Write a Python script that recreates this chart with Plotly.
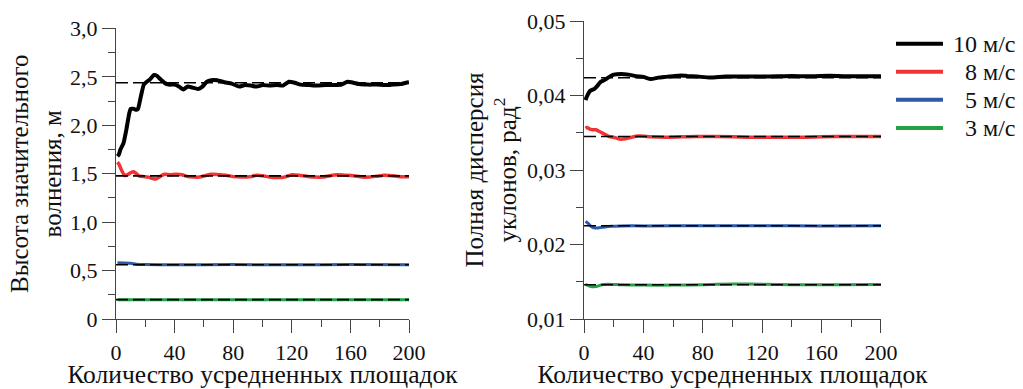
import plotly.graph_objects as go

# ---------------- data ----------------
# Left panel: significant wave height, m
h10_x = [1, 2, 3, 5, 7, 9, 10, 12, 14, 15, 17, 19, 21, 23, 26, 28, 30, 33, 36, 40, 43, 46, 49, 52, 56, 59, 62, 65, 69, 74, 79, 84, 88, 92, 96, 100, 105, 110, 114, 118, 122, 126, 132, 137, 143, 149, 154, 158, 162, 166, 172, 178, 184, 189, 194, 198, 200]
h10_y = [1.68, 1.70, 1.75, 1.81, 1.95, 2.12, 2.17, 2.17, 2.16, 2.17, 2.30, 2.42, 2.45, 2.47, 2.52, 2.51, 2.48, 2.44, 2.42, 2.42, 2.40, 2.37, 2.40, 2.39, 2.375, 2.40, 2.45, 2.465, 2.465, 2.445, 2.43, 2.40, 2.415, 2.41, 2.40, 2.415, 2.41, 2.415, 2.41, 2.45, 2.44, 2.42, 2.415, 2.41, 2.415, 2.415, 2.42, 2.45, 2.44, 2.425, 2.42, 2.42, 2.415, 2.42, 2.425, 2.44, 2.445]

h8_x = [1, 2, 4, 6, 8, 10, 12, 14, 16, 19, 22, 25, 27, 30, 33, 37, 41, 45, 49, 53, 57, 61, 65, 70, 75, 80, 86, 92, 96, 100, 105, 110, 115, 120, 125, 130, 136, 141, 146, 151, 156, 162, 168, 173, 178, 183, 188, 194, 200]
h8_y = [1.62, 1.60, 1.53, 1.48, 1.49, 1.51, 1.52, 1.50, 1.475, 1.47, 1.465, 1.45, 1.445, 1.47, 1.495, 1.49, 1.495, 1.49, 1.47, 1.465, 1.465, 1.48, 1.495, 1.49, 1.485, 1.47, 1.465, 1.47, 1.485, 1.48, 1.465, 1.46, 1.465, 1.49, 1.485, 1.475, 1.465, 1.465, 1.48, 1.49, 1.485, 1.48, 1.465, 1.465, 1.475, 1.485, 1.48, 1.47, 1.47]

h5_x = [1, 5, 10, 14, 20, 40, 80, 120, 160, 200]
h5_y = [0.58, 0.578, 0.575, 0.565, 0.562, 0.56, 0.562, 0.56, 0.562, 0.56]

h3_x = [1, 50, 100, 150, 200]
h3_y = [0.199, 0.2, 0.2, 0.2, 0.2]

h_mean = [2.44, 1.478, 0.56, 0.2]

# Right panel: total slope variance, rad^2
s10_x = [1, 2, 4, 7, 9, 11, 14, 17, 20, 25, 30, 35, 40, 45, 50, 55, 60, 65, 70, 76, 85, 95, 105, 115, 125, 135, 145, 155, 165, 175, 185, 195, 200]
s10_y = [0.0394, 0.0399, 0.0406, 0.0409, 0.0413, 0.0418, 0.0421, 0.0425, 0.0428, 0.0429, 0.0428, 0.0426, 0.0425, 0.0422, 0.0424, 0.0425, 0.0426, 0.0427, 0.0426, 0.04255, 0.0424, 0.04255, 0.04255, 0.04255, 0.04255, 0.0426, 0.0426, 0.0426, 0.04265, 0.0426, 0.0426, 0.0426, 0.0426]

s8_x = [1, 2, 4, 6, 8, 11, 14, 17, 20, 24, 28, 32, 37, 45, 55, 65, 75, 90, 110, 130, 150, 170, 190, 200]
s8_y = [0.0356, 0.0357, 0.0355, 0.0354, 0.0354, 0.0351, 0.0348, 0.0345, 0.0344, 0.03415, 0.0342, 0.0344, 0.03455, 0.03445, 0.0344, 0.03445, 0.0345, 0.0345, 0.0344, 0.0344, 0.0344, 0.0345, 0.0345, 0.0345]

s5_x = [1, 3, 5, 8, 12, 18, 25, 40, 80, 120, 160, 200]
s5_y = [0.0231, 0.0228, 0.0224, 0.0222, 0.0223, 0.02245, 0.0225, 0.0225, 0.02252, 0.02252, 0.0225, 0.02252]

s3_x = [1, 4, 8, 12, 16, 25, 40, 60, 80, 100, 120, 140, 170, 200]
s3_y = [0.01465, 0.0144, 0.01435, 0.0146, 0.01468, 0.0146, 0.01455, 0.01455, 0.0146, 0.0147, 0.01468, 0.0146, 0.0146, 0.01462]

s_mean = [0.04238, 0.0345, 0.02252, 0.0146]

mean_x = [0, 200]

series_names = ["10 м/с", "8 м/с", "5 м/с", "3 м/с"]
colors = ["#000000", "#ee3434", "#2c5aa8", "#26a048"]
widths = [4, 3.5, 3, 3]

x_tickvals = [0, 40, 80, 120, 160, 200]
x_ticktext = ["0", "40", "80", "120", "160", "200"]
h_tickvals = [0, 0.5, 1.0, 1.5, 2.0, 2.5, 3.0]
h_ticktext = ["0", "0,5", "1,0", "1,5", "2,0", "2,5", "3,0"]
s_tickvals = [0.01, 0.02, 0.03, 0.04, 0.05]
s_ticktext = ["0,01", "0,02", "0,03", "0,04", "0,05"]

FONT = "Liberation Serif, Times New Roman, serif"
TXT = "#111111"
AX = "#444444"

fig = go.Figure()

left = [(h10_x, h10_y), (h8_x, h8_y), (h5_x, h5_y), (h3_x, h3_y)]
right = [(s10_x, s10_y), (s8_x, s8_y), (s5_x, s5_y), (s3_x, s3_y)]

for i, (xs, ys) in enumerate(left):
    fig.add_trace(go.Scatter(x=xs, y=ys, mode="lines", name=series_names[i],
                             line=dict(color=colors[i], width=widths[i], shape="spline", smoothing=0.5),
                             xaxis="x", yaxis="y", showlegend=False))
for i, (xs, ys) in enumerate(right):
    fig.add_trace(go.Scatter(x=xs, y=ys, mode="lines", name=series_names[i],
                             line=dict(color=colors[i], width=widths[i], shape="spline", smoothing=0.5),
                             xaxis="x2", yaxis="y2", showlegend=False))
for m in h_mean:
    fig.add_trace(go.Scatter(x=mean_x, y=[m, m], mode="lines", showlegend=False,
                             line=dict(color="#000000", width=1.6, dash="12px,5px"),
                             xaxis="x", yaxis="y", hoverinfo="skip"))
for m in s_mean:
    fig.add_trace(go.Scatter(x=mean_x, y=[m, m], mode="lines", showlegend=False,
                             line=dict(color="#000000", width=1.6, dash="12px,5px"),
                             xaxis="x2", yaxis="y2", hoverinfo="skip"))

# legend (right-aligned labels, as in the original)
leg_y = [0.924, 0.83, 0.736, 0.641]
for i, name in enumerate(series_names):
    fig.add_shape(type="line", xref="paper", yref="paper", x0=1.0196, x1=1.081,
                  y0=leg_y[i], y1=leg_y[i], line=dict(color=colors[i], width=4))
    fig.add_annotation(xref="paper", yref="paper", x=1.179, y=leg_y[i], text=name,
                       showarrow=False, xanchor="right", yanchor="middle",
                       font=dict(family=FONT, size=24, color=TXT))

axis_common = dict(showline=True, linecolor=AX, linewidth=1.3, showgrid=False, zeroline=False,
                   ticks="outside", tickcolor=AX, tickwidth=1.3, ticklen=13, automargin=False,
                   tickfont=dict(family=FONT, size=22, color=TXT))
xtitle = dict(text="Количество усредненных площадок", font=dict(family=FONT, size=25.5, color=TXT), standoff=6)
minor_x = dict(dtick=20, tick0=0, ticks="outside", ticklen=7, tickcolor=AX, tickwidth=1.3)

fig.update_layout(
    width=1023, height=389,
    margin=dict(l=116, r=142, t=21, b=70),
    paper_bgcolor="white", plot_bgcolor="white",
    font=dict(family=FONT, color=TXT),
    showlegend=False,
    xaxis=dict(domain=[0, 0.383], range=[0, 200], tickvals=x_tickvals, ticktext=x_ticktext,
               minor=minor_x, title=xtitle, anchor="y", **axis_common),
    yaxis=dict(domain=[0, 0.975], range=[0, 3.0], tickvals=h_tickvals, ticktext=h_ticktext,
               minor=dict(dtick=0.25, tick0=0, ticks="outside", ticklen=7, tickcolor=AX, tickwidth=1.3),
               title=dict(text="Высота значительного<br>волнения, м", font=dict(family=FONT, size=25, color=TXT), standoff=1),
               anchor="x", **axis_common),
    xaxis2=dict(domain=[0.6118, 1.0], range=[0, 200], tickvals=x_tickvals, ticktext=x_ticktext,
                minor=minor_x, title=xtitle, anchor="y2", **axis_common),
    yaxis2=dict(domain=[0, 1.0], range=[0.01, 0.05], tickvals=s_tickvals, ticktext=s_ticktext,
                minor=dict(dtick=0.005, tick0=0.01, ticks="outside", ticklen=7, tickcolor=AX, tickwidth=1.3),
                title=dict(text="Полная дисперсия<br>уклонов, рад<sup>2</sup>", font=dict(family=FONT, size=25, color=TXT), standoff=3),
                anchor="x2", **axis_common),
)

fig.write_html("out.html")
